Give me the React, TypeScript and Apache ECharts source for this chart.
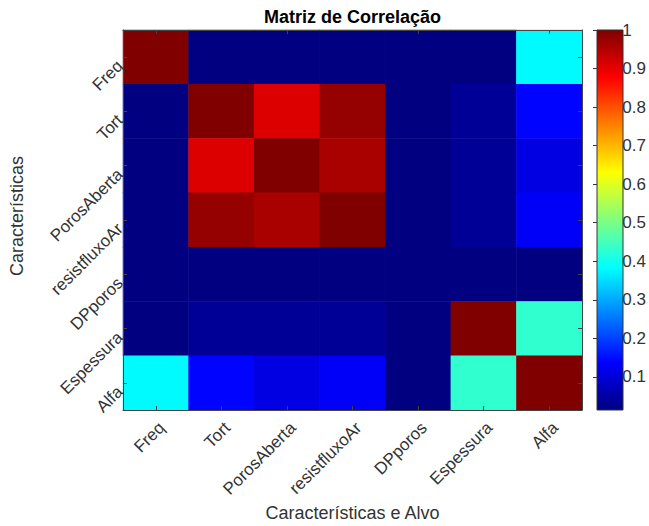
import React, { useEffect, useRef } from "react";
import * as echarts from "echarts";

const features = ["Freq", "Tort", "PorosAberta", "resistfluxoAr", "DPporos", "Espessura", "Alfa"];

const freqRow = [1, 0.014, 0.014, 0.014, 0.014, 0.014, 0.38];
const tortRow = [0.014, 1, 0.91, 0.98, 0.014, 0.035, 0.14];
const porosAbertaRow = [0.014, 0.91, 1, 0.96, 0.014, 0.035, 0.11];
const resistRow = [0.014, 0.98, 0.96, 1, 0.014, 0.035, 0.13];
const dpPorosRow = [0.014, 0.014, 0.014, 0.014, 0.014, 0.014, 0.014];
const espessuraRow = [0.014, 0.035, 0.035, 0.035, 0.014, 1, 0.43];
const alfaRow = [0.38, 0.14, 0.11, 0.13, 0.014, 0.43, 1];

const matrix = [freqRow, tortRow, porosAbertaRow, resistRow, dpPorosRow, espessuraRow, alfaRow];

const colorMin = 0.014;
const colorMax = 1;
const colorbarTicks = [0.1, 0.2, 0.3, 0.4, 0.5, 0.6, 0.7, 0.8, 0.9, 1];

const jet = ["#000080", "#0000ff", "#0080ff", "#00ffff", "#80ff80", "#ffff00", "#ff8000", "#ff0000", "#800000"];

const FONT = "'Liberation Sans', Arial, sans-serif";

export default function App() {
  const ref = useRef<HTMLDivElement>(null);
  useEffect(() => {
    if (!ref.current) return;
    const chart = echarts.init(ref.current, null, { renderer: "svg" });
    const data: [number, number, number][] = [];
    matrix.forEach((row, yi) => row.forEach((v, xi) => data.push([xi, yi, v])));

    const gx = 123, gy = 30, gw = 459, gh = 380;
    const cbx = 597, cbw = 26;

    const catAxisCommon = {
      type: "category" as const,
      data: features,
      gridIndex: 0,
      z: 10,
      axisLine: { show: true, lineStyle: { color: "#444", width: 1 } },
      axisTick: { show: true, inside: true, alignWithLabel: true, length: 4, lineStyle: { color: "#444" } },
      splitLine: { show: false },
    };

    chart.setOption({
      animation: false,
      backgroundColor: "#ffffff",
      textStyle: { fontFamily: FONT },
      grid: [
        { left: gx, top: gy, width: gw, height: gh },
        { left: cbx, top: gy, width: cbw, height: gh },
      ],
      xAxis: [
        {
          ...catAxisCommon,
          position: "bottom",
          axisLabel: { rotate: 45, fontSize: 17, color: "#333", margin: 9, verticalAlign: "top", fontFamily: FONT },
        },
        {
          ...catAxisCommon,
          position: "top",
          axisLabel: { show: false },
        },
        { type: "value", gridIndex: 1, show: false, min: 0, max: 1 },
      ],
      yAxis: [
        {
          ...catAxisCommon,
          inverse: true,
          position: "left",
          axisLabel: { rotate: 45, fontSize: 17, color: "#333", margin: 9, verticalAlign: "top", fontFamily: FONT },
        },
        {
          ...catAxisCommon,
          inverse: true,
          position: "right",
          axisLabel: { show: false },
        },
        {
          type: "value",
          gridIndex: 1,
          position: "right",
          min: colorMin,
          max: colorMax,
          z: 10,
          axisLine: { show: false },
          splitLine: { show: false },
          axisTick: {
            show: true,
            inside: true,
            length: 4,
            customValues: colorbarTicks,
            lineStyle: { color: "#333" },
          },
          axisLabel: {
            show: true,
            customValues: colorbarTicks,
            fontSize: 17,
            color: "#333",
            margin: 6,
            fontFamily: FONT,
            formatter: (v: number) => String(Math.round(v * 10) / 10),
          },
        },
      ],
      visualMap: {
        show: false,
        min: colorMin,
        max: colorMax,
        seriesIndex: 0,
        inRange: { color: jet },
      },
      series: [
        {
          type: "heatmap",
          xAxisIndex: 0,
          yAxisIndex: 0,
          data,
          itemStyle: { borderWidth: 0 },
          emphasis: { disabled: true },
        },
      ],
      graphic: [
        {
          type: "rect",
          z: 0,
          shape: { x: cbx, y: gy, width: cbw, height: gh },
          style: {
            fill: new echarts.graphic.LinearGradient(
              0, 1, 0, 0,
              jet.map((c, i) => ({ offset: i / (jet.length - 1), color: c }))
            ),
            stroke: "#333",
            lineWidth: 1,
          },
        },
        {
          type: "text",
          x: gx + gw / 2,
          y: 17,
          style: {
            text: "Matriz de Correlação",
            fontSize: 18,
            fontWeight: "bold",
            fontFamily: FONT,
            fill: "#000",
            align: "center",
            verticalAlign: "middle",
          },
        },
        {
          type: "text",
          x: gx + gw / 2,
          y: 513,
          style: {
            text: "Características e Alvo",
            fontSize: 18,
            fontFamily: FONT,
            fill: "#333",
            align: "center",
            verticalAlign: "middle",
          },
        },
        {
          type: "text",
          x: 17,
          y: 216,
          rotation: Math.PI / 2,
          style: {
            text: "Características",
            fontSize: 18,
            fontFamily: FONT,
            fill: "#333",
            align: "center",
            verticalAlign: "middle",
          },
        },
      ],
    });
    return () => chart.dispose();
  }, []);
  return (
    <div
      ref={ref}
      style={{ position: "fixed", left: 0, top: 0, width: 649, height: 526 }}
    />
  );
}
